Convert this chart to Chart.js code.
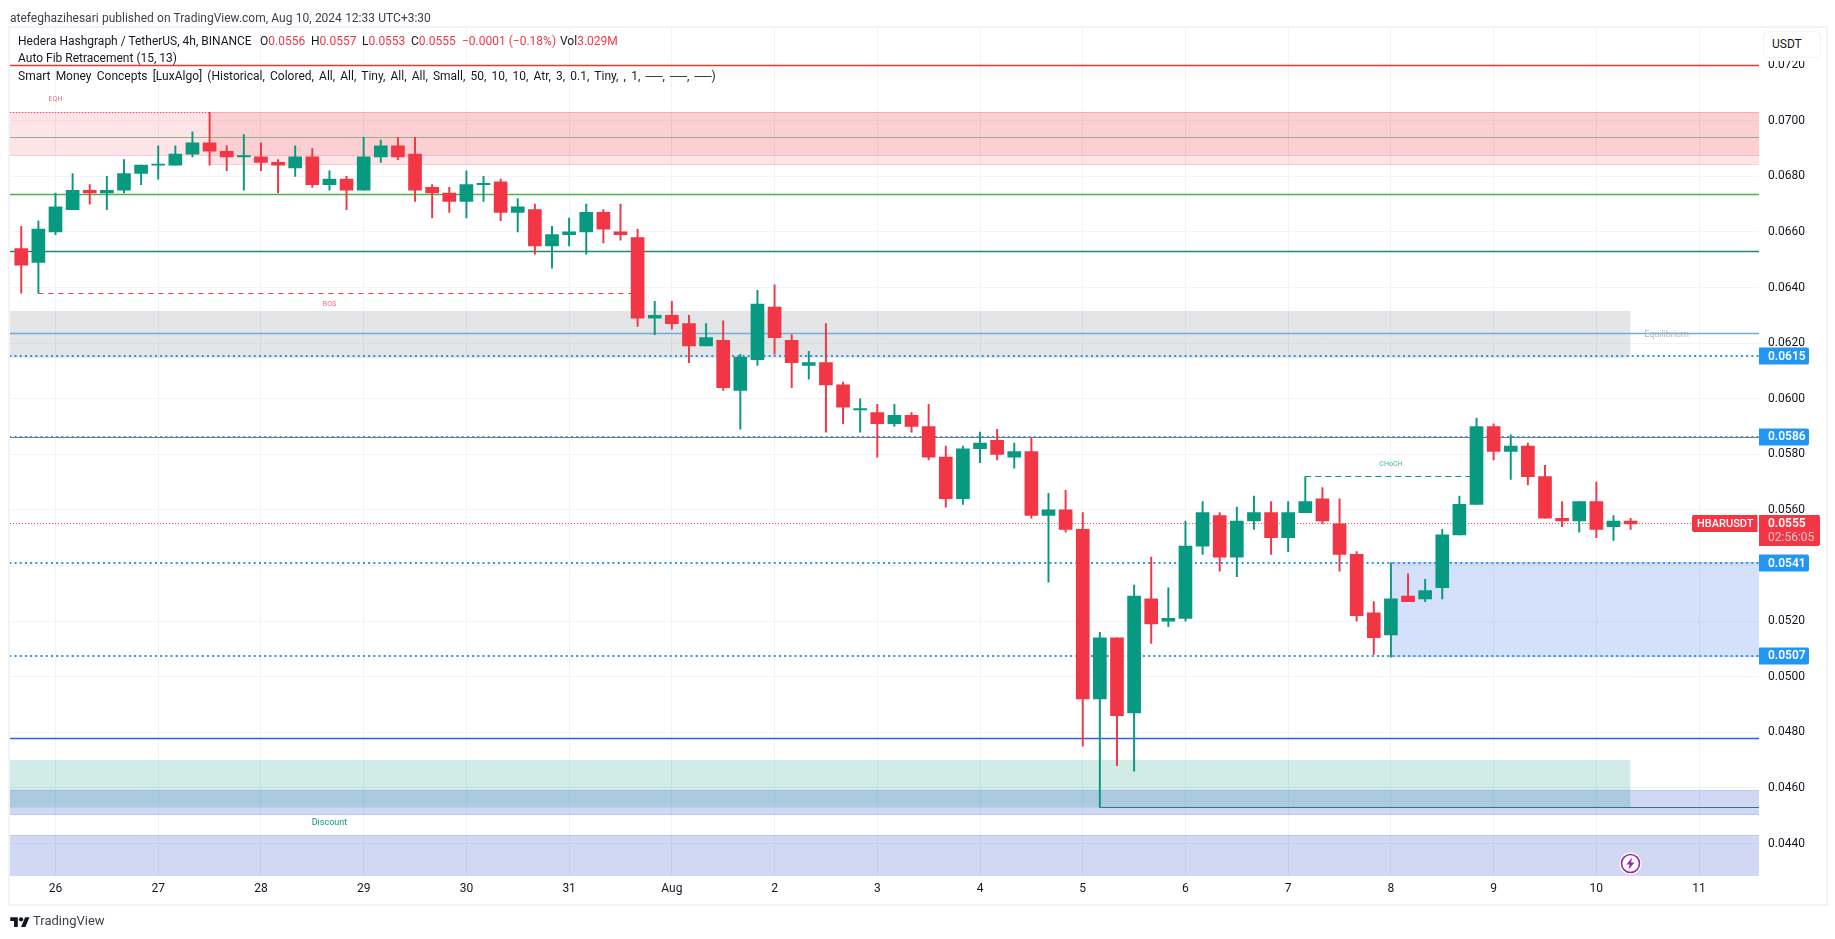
<!DOCTYPE html>
<html>
<head>
<meta charset="utf-8">
<title>HBARUSDT</title>
<script src="https://cdn.jsdelivr.net/npm/chart.js@4"></script>
<style>
html, body { margin: 0; padding: 0; background: #fff; overflow: hidden; }
body { width: 1835px; height: 939px; position: relative; font-family: Roboto, sans-serif; color: #131722; }
#wrap { position: absolute; left: 0; top: 0; width: 1835px; height: 939px; }
.t { position: absolute; white-space: nowrap; font-size: 12px; line-height: 16px; }
.r { color: #F23645; }
#frame { position: absolute; left: 8px; top: 26px; width: 1816px; height: 876px; border: 2px solid #F0F3FA; box-sizing: content-box; pointer-events: none; }
#usdtBack { position: absolute; left: 1762px; top: 30px; width: 60px; height: 31px; background: #fff; }
#usdt { position: absolute; left: 1763px; top: 31px; width: 56px; height: 25px; background: #fff; border: 1.5px solid #F0F3FA; border-radius: 5px; font-size: 12px; line-height: 25px; text-indent: 8px; }
</style>
</head>
<body>
<div id="wrap"><canvas id="hbar-chart" width="1835" height="939"></canvas></div>
<div id="frame"></div>
<div class="t" style="left:10px;top:10px;color:#3b3f4a;word-spacing:.3px">atefeghazihesari published on TradingView.com, Aug 10, 2024 12:33 UTC+3:30</div>
<div class="t" style="left:18px;top:33px">Hedera Hashgraph / TetherUS, 4h, BINANCE</div>
<div class="t" style="left:260px;top:33px">O<span class="r">0.0556</span></div>
<div class="t" style="left:311px;top:33px">H<span class="r">0.0557</span></div>
<div class="t" style="left:362px;top:33px">L<span class="r">0.0553</span></div>
<div class="t" style="left:411px;top:33px">C<span class="r">0.0555</span></div>
<div class="t r" style="left:462px;top:33px">−0.0001 (−0.18%)</div>
<div class="t" style="left:560px;top:33px">Vol<span class="r">3.029M</span></div>
<div class="t" style="left:18px;top:50px">Auto Fib Retracement (15, 13)</div>
<div class="t" style="left:18px;top:68px;word-spacing:2.2px">Smart Money Concepts [LuxAlgo] (Historical, Colored, All, All, Tiny, All, All, Small, 50, 10, 10, Atr, 3, 0.1, Tiny, , 1, ──, ──, ──)</div>
<div id="usdtBack"></div>
<div id="usdt">USDT</div>
<svg style="position:absolute;left:10px;top:915px" width="20" height="13" viewBox="0 0 36 24"><path fill="#131722" d="M14 22H7V11H0V4h14v18zM28 22h-8l7.5-18h8L28 22z"/><circle fill="#131722" cx="20" cy="8" r="4"/></svg>
<div class="t" style="left:33px;top:912px;font-size:13px;line-height:18px;color:#3b3f4a">TradingView</div>
<svg style="position:absolute;left:1619px;top:852px" width="23" height="23" viewBox="0 0 23 23"><circle cx="11.5" cy="11.5" r="11" fill="#fff"/><circle cx="11.5" cy="11.5" r="9" fill="#fff" stroke="#9C27B0" stroke-width="1.6"/><path fill="#9C27B0" d="M13 5.5 7.5 12.5h3.2L9.5 17.5 15.5 10.5h-3.4z"/></svg>

<script>
// candles, 4h, first one sits two bars before the "26" tick
var opens = [0.0654,0.0649,0.0660,0.0668,0.0675,0.0674,0.0675,0.0681,0.0684,0.0684,0.0688,0.0692,0.0689,0.0687,0.0687,0.0685,0.0683,0.0687,0.0677,0.0679,0.0675,0.0687,0.0691,0.0688,0.0676,0.0674,0.0671,0.0677,0.0678,0.0667,0.0668,0.0655,0.0659,0.0660,0.0667,0.0660,0.0658,
    0.0629,0.0630,0.0627,0.0619,0.0621,0.0603,0.0614,0.0633,0.0621,0.0612,0.0613,0.0605,0.0596,0.0595,0.0591,0.0594,0.0590,0.0579,0.0564,0.0582,0.0585,0.0579,0.0581,
    0.0558,0.0560,0.0553,0.0492,0.0514,0.0487,0.0528,0.0520,0.0521,0.0547,0.0558,0.0543,0.0556,0.0559,0.0550,0.0559,0.0564,0.0555,0.0544,0.0523,0.0515,0.0529,0.0528,
    0.0532,0.0551,0.0562,0.0590,0.0581,0.0583,0.0572,0.0557,0.0556,0.0563,0.0554,0.0556];
var highs = [0.0662,0.0664,0.0674,0.0681,0.0677,0.0680,0.0686,0.0684,0.0691,0.0691,0.0696,0.0703,0.0691,0.0695,0.0692,0.0686,0.0691,0.0690,0.0682,0.0680,0.0694,0.0693,0.0694,0.0694,0.0677,0.0676,0.0682,0.0680,0.0679,0.0672,0.0670,0.0662,0.0665,0.0670,0.0668,0.0670,0.0661,
    0.0635,0.0635,0.0630,0.0627,0.0628,0.0616,0.0639,0.0641,0.0623,0.0617,0.0627,0.0606,0.0600,0.0598,0.0598,0.0595,0.0598,0.0583,0.0583,0.0588,0.0589,0.0584,0.0586,
    0.0566,0.0567,0.0559,0.0516,0.0514,0.0533,0.0543,0.0532,0.0556,0.0563,0.0559,0.0561,0.0565,0.0563,0.0563,0.0572,0.0568,0.0564,0.0545,0.0527,0.0541,0.0537,0.0535,
    0.0553,0.0565,0.0593,0.0591,0.0587,0.0584,0.0576,0.0563,0.0563,0.0570,0.0558,0.0557];
var lows = [0.0638,0.0638,0.0659,0.0668,0.0670,0.0668,0.0674,0.0677,0.0679,0.0684,0.0687,0.0684,0.0682,0.0675,0.0682,0.0674,0.0680,0.0676,0.0675,0.0668,0.0675,0.0685,0.0686,0.0671,0.0665,0.0667,0.0665,0.0671,0.0664,0.0660,0.0652,0.0647,0.0655,0.0652,0.0656,0.0657,0.0626,
    0.0623,0.0625,0.0613,0.0619,0.0603,0.0589,0.0612,0.0616,0.0604,0.0607,0.0588,0.0591,0.0588,0.0579,0.0590,0.0588,0.0578,0.0561,0.0562,0.0577,0.0578,0.0575,0.0557,
    0.0534,0.0552,0.0475,0.0453,0.0468,0.0466,0.0512,0.0518,0.0520,0.0544,0.0538,0.0536,0.0553,0.0544,0.0545,0.0559,0.0555,0.0538,0.0520,0.0508,0.0507,0.0527,0.0527,
    0.0528,0.0551,0.0562,0.0578,0.0571,0.0569,0.0557,0.0554,0.0552,0.0550,0.0549,0.0553];
var closes = [0.0648,0.0661,0.0669,0.0675,0.0674,0.0675,0.0681,0.0684,0.0684,0.0688,0.0692,0.0689,0.0687,0.0687,0.0685,0.0684,0.0687,0.0677,0.0679,0.0675,0.0687,0.0691,0.0687,0.0675,0.0674,0.0671,0.0677,0.0677,0.0667,0.0669,0.0655,0.0659,0.0660,0.0667,0.0661,0.0659,0.0629,
    0.0630,0.0627,0.0619,0.0622,0.0604,0.0615,0.0634,0.0622,0.0613,0.0613,0.0605,0.0597,0.0596,0.0591,0.0594,0.0590,0.0579,0.0564,0.0582,0.0584,0.0580,0.0581,0.0558,
    0.0560,0.0553,0.0492,0.0514,0.0486,0.0529,0.0519,0.0521,0.0547,0.0559,0.0543,0.0556,0.0559,0.0550,0.0559,0.0563,0.0556,0.0544,0.0522,0.0514,0.0528,0.0527,0.0531,
    0.0551,0.0562,0.0590,0.0581,0.0583,0.0572,0.0557,0.0556,0.0563,0.0553,0.0556,0.0555];

var dayLabels = ["26","27","28","29","30","31","Aug","2","3","4","5","6","7","8","9","10","11"];
var priceTicks = [0.0440,0.0460,0.0480,0.0500,0.0520,0.0540,0.0560,0.0580,0.0600,0.0620,0.0640,0.0660,0.0680,0.0700,0.0720];

// horizontal levels
var fibLevels = [0.071986, 0.067346, 0.065295, 0.047777];
var fibColors = ["#E53935", "#4CAF50", "#1F8A70", "#2962FF"];
var fibMid = 0.069396;
var equilibrium = 0.062346;
var dottedLevels = [0.061536, 0.058623, 0.054090, 0.050745];
var lastPrice = 0.055511;
var eqhLine = [0, 9, 0.070295];   // from index, to index, price
var bosLine = [-1, 34, 0.063785];
var chochLine = [73, 83, 0.057202];
var bottomLine = [61, 100, 0.045295];
var grayLine = 0.058605;

// zones: from index, to index, top, bottom
var premiumA = [-3, 100, 0.070295, 0.068749];
var premiumB = [9, 100, 0.070295, 0.068425];
var eqZone = [-3, 92, 0.063155, 0.061475];
var demandBox = [78, 100, 0.054108, 0.05072];
var discountZone = [-3, 92, 0.047003, 0.045295];
var supportA = [-3, 100, 0.045907, 0.045043];
var supportB = [-3, 100, 0.044288, 0.0420];

var textMarks = [
    ["EQH", 0, 0.07078, "rgba(242,54,69,.75)", "7px"],
    ["BOS", 16, 0.0634, "rgba(242,54,69,.75)", "7px"],
    ["CHoCH", 78, 0.05763, "rgba(8,153,129,.75)", "7px"],
    ["Equilibrium", 94.1, 0.0623, "#B2B5BE", "9px"],
    ["Discount", 16, 0.04475, "#089981", "9px"]
];

var GREEN = "#089981", RED = "#F23645", BLUE = "#2196F3";

var candleX = opens.map(function (o, i) { return i - 2; });
var candleColors = opens.map(function (o, i) {
    return closes[i] >= o ? GREEN : RED;
});

function lineSet(from, to, price, color, width, dash) {
    return {
        type: "line",
        data: [{ x: from, y: price }, { x: to, y: price }],
        borderColor: color,
        borderWidth: width,
        borderDash: dash || [],
        pointRadius: 0,
        fill: false,
        order: 5
    };
}

function zoneSets(zone, fill, border, order) {
    var out = [{
        type: "line",
        data: [{ x: zone[0], y: zone[2] }, { x: zone[1], y: zone[2] }],
        borderColor: border,
        borderWidth: 1,
        pointRadius: 0,
        backgroundColor: fill,
        fill: { value: zone[3] },
        order: order
    }];
    out.push(lineSet(zone[0], zone[1], zone[3], border, 1));
    out[1].order = order;
    return out;
}

var datasets = [];

datasets = datasets.concat(
    zoneSets(premiumA, "rgba(242,54,69,.13)", "rgba(242,54,69,.2)", 20),
    zoneSets(premiumB, "rgba(242,54,69,.13)", "rgba(242,54,69,.2)", 19),
    zoneSets(eqZone, "rgba(120,123,134,.2)", "rgba(120,123,134,0)", 18),
    zoneSets(discountZone, "rgba(8,153,129,.19)", "rgba(8,153,129,0)", 18),
    zoneSets(supportA, "rgba(33,70,200,.21)", "rgba(41,98,255,.25)", 17),
    zoneSets(supportB, "rgba(33,70,200,.21)", "rgba(41,98,255,.25)", 17),
    zoneSets(demandBox, "rgba(33,90,230,.19)", "rgba(41,98,255,.15)", 17)
);

fibLevels.forEach(function (p, i) {
    datasets.push(lineSet(-3, 100, p, fibColors[i], 1.4));
});
datasets.push(lineSet(-3, 100, fibMid, "#8DB38E", 1.2));
datasets.push(lineSet(-3, 100, equilibrium, "#6CAEE4", 1.4));
datasets.push(lineSet(-3, 100, grayLine, "#787B86", 1.2));
dottedLevels.forEach(function (p) {
    datasets.push(lineSet(-3, 100, p, BLUE, 2, [2, 3.2]));
});
datasets.push(lineSet(-3, 100, lastPrice, RED, 1, [1, 2]));
datasets.push(lineSet(-3, eqhLine[1], eqhLine[2], RED, 1, [1, 2]));
datasets.push(lineSet(bosLine[0], bosLine[1], bosLine[2], RED, 1, [5, 5]));
datasets.push(lineSet(chochLine[0], chochLine[1], chochLine[2], GREEN, 1, [6, 4]));
datasets.push(lineSet(bottomLine[0], bottomLine[1], bottomLine[2], "#1E8078", 1.2));

// wicks then bodies, both floating bars
datasets.push({
    label: "wick",
    data: candleX.map(function (x, i) { return { x: x, y: [lows[i], highs[i]] }; }),
    backgroundColor: candleColors,
    barThickness: 1.3,
    grouped: false,
    order: 1
});
datasets.push({
    label: "body",
    data: candleX.map(function (x, i) { return { x: x, y: [opens[i], closes[i]] }; }),
    backgroundColor: candleColors,
    barThickness: 13,
    minBarLength: 1.2,
    grouped: false,
    order: 0
});

var sidePills = {
    id: "sidePills",
    afterDraw: function (chart) {
        var ctx = chart.ctx, yS = chart.scales.y, xS = chart.scales.x;
        var left = chart.chartArea.right;

        ctx.save();
        ctx.textBaseline = "middle";

        textMarks.forEach(function (m) {
            ctx.font = m[4] + " Roboto, sans-serif";
            ctx.fillStyle = m[3];
            ctx.textAlign = "center";
            ctx.fillText(m[0], xS.getPixelForValue(m[1]), yS.getPixelForValue(m[2]));
        });

        ctx.textAlign = "left";
        dottedLevels.forEach(function (p) {
            var y = yS.getPixelForValue(p);
            ctx.fillStyle = BLUE;
            ctx.beginPath();
            ctx.roundRect(left, y - 8.5, 50, 17, [0, 2, 2, 0]);
            ctx.fill();
            ctx.fillStyle = "#fff";
            ctx.font = "600 12px Roboto, sans-serif";
            ctx.fillText(p.toFixed(4), left + 9, y + 0.5);
        });

        var yLast = yS.getPixelForValue(lastPrice);
        ctx.fillStyle = RED;
        ctx.beginPath();
        ctx.roundRect(left, yLast - 8.5, 61, 31, [0, 2, 2, 0]);
        ctx.fill();
        ctx.beginPath();
        ctx.roundRect(left - 67, yLast - 8.5, 65.5, 17, [2, 0, 0, 2]);
        ctx.fill();
        ctx.fillStyle = "#fff";
        ctx.font = "600 12px Roboto, sans-serif";
        ctx.fillText(lastPrice.toFixed(4), left + 9, yLast + 0.5);
        ctx.font = "500 11px Roboto, sans-serif";
        ctx.fillText("HBARUSDT", left - 62, yLast + 0.5);
        ctx.font = "12px Roboto, sans-serif";
        ctx.fillStyle = "rgba(255,255,255,.7)";
        ctx.fillText("02:56:05", left + 9, yLast + 14.5);
        ctx.restore();
    }
};

var ctx = document.getElementById("hbar-chart").getContext("2d");

new Chart(ctx, {
    type: "bar",
    data: { datasets: datasets },
    plugins: [sidePills],
    options: {
        responsive: false,
        animation: false,
        layout: { padding: { left: 9.5, top: 27.5, right: 10, bottom: 36 } },
        plugins: { legend: { display: false }, tooltip: { enabled: false }, title: { display: false } },
        scales: {
            x: {
                type: "linear",
                offset: false,
                min: -2.687,
                max: 99.5,
                border: { display: false },
                grid: { color: "#F0F3FA", offset: false, drawTicks: false },
                afterBuildTicks: function (axis) {
                    axis.ticks = dayLabels.map(function (d, i) { return { value: i * 6, label: d }; });
                },
                afterFit: function (axis) { axis.height = 27; },
                ticks: {
                    autoSkip: false,
                    maxRotation: 0,
                    padding: 6,
                    color: "#131722",
                    font: { family: "Roboto, sans-serif", size: 12 },
                    callback: function (v, i) { return dayLabels[i]; }
                }
            },
            y: {
                type: "linear",
                position: "right",
                beginAtZero: false,
                min: 0.042831,
                max: 0.073353,
                border: { display: false },
                grid: { color: "#F0F3FA", drawTicks: false },
                afterBuildTicks: function (axis) {
                    axis.ticks = priceTicks.map(function (p) { return { value: p }; });
                },
                afterFit: function (axis) { axis.width = 66; },
                ticks: {
                    padding: 9,
                    color: "#131722",
                    font: { family: "Roboto, sans-serif", size: 12 },
                    callback: function (v) { return v.toFixed(4); }
                }
            }
        }
    }
});
</script>
</body>
</html>
